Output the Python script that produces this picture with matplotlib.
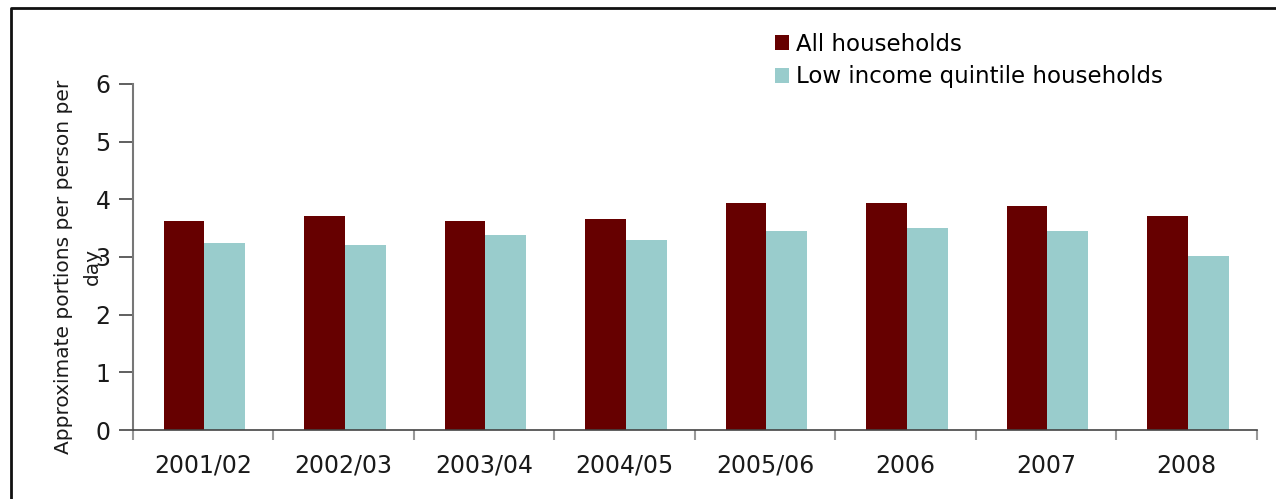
import numpy as np
import matplotlib.pyplot as plt
from matplotlib.lines import Line2D

# fruit & veg portions per person per day
years = ['2001/02', '2002/03', '2003/04', '2004/05', '2005/06', '2006', '2007', '2008']
all_hh = [3.62, 3.71, 3.63, 3.66, 3.93, 3.93, 3.88, 3.71]
low_income = [3.24, 3.21, 3.38, 3.30, 3.45, 3.51, 3.45, 3.01]

plt.rcParams['font.family'] = ['DejaVu Sans']

fig = plt.figure(figsize=(12.76, 4.99), dpi=100)
ax = fig.add_axes([0.104, 0.138, 0.881, 0.694])

x = np.arange(len(years))
w = 0.29
ax.bar(x - w/2 + 0.01, all_hh, w, color='#660000', label='All households')
ax.bar(x + w/2 + 0.01, low_income, w, color='#99CCCC', label='Low income quintile households')

ax.set_xlim(-0.5, len(years) - 0.5)
ax.set_ylim(0, 6)
ax.set_yticks(range(7))
ax.set_xticks(x)
ax.set_xticklabels(years, fontsize=17, color='#1a1a1a')
ax.tick_params(axis='x', length=0, pad=17)
ax.tick_params(axis='y', labelsize=17, labelcolor='#1a1a1a', length=10, width=1.2,
               color='#444444', pad=6)
# category boundary ticks
ax.set_xticks(np.arange(len(years) + 1) - 0.5, minor=True)
ax.tick_params(axis='x', which='minor', length=7, width=1.5, color='#999999')

for s in ['top', 'right']:
    ax.spines[s].set_visible(False)
ax.spines['left'].set_color('#777777')
ax.spines['left'].set_linewidth(1.5)
ax.spines['bottom'].set_color('#444444')
ax.spines['bottom'].set_linewidth(1.2)

fig.text(0.061, 0.466, 'Approximate portions per person per\nday', rotation=90,
         ha='center', va='center', multialignment='center', fontsize=14.5,
         linespacing=1.7, color='#1a1a1a')

ax.legend(loc='upper left', bbox_to_anchor=(0.600, 0.953), bbox_transform=fig.transFigure,
          frameon=False, fontsize=16.5, handlelength=0.62, handleheight=0.62,
          handletextpad=0.3, labelspacing=0.42, borderaxespad=0)

# outer chart frame (open at the bottom)
fig.add_artist(Line2D([0.009, 0.009, 1.0], [0.0, 0.984, 0.984],
                      transform=fig.transFigure, color='#111111', lw=2))

fig.savefig('out.png', dpi=100)
